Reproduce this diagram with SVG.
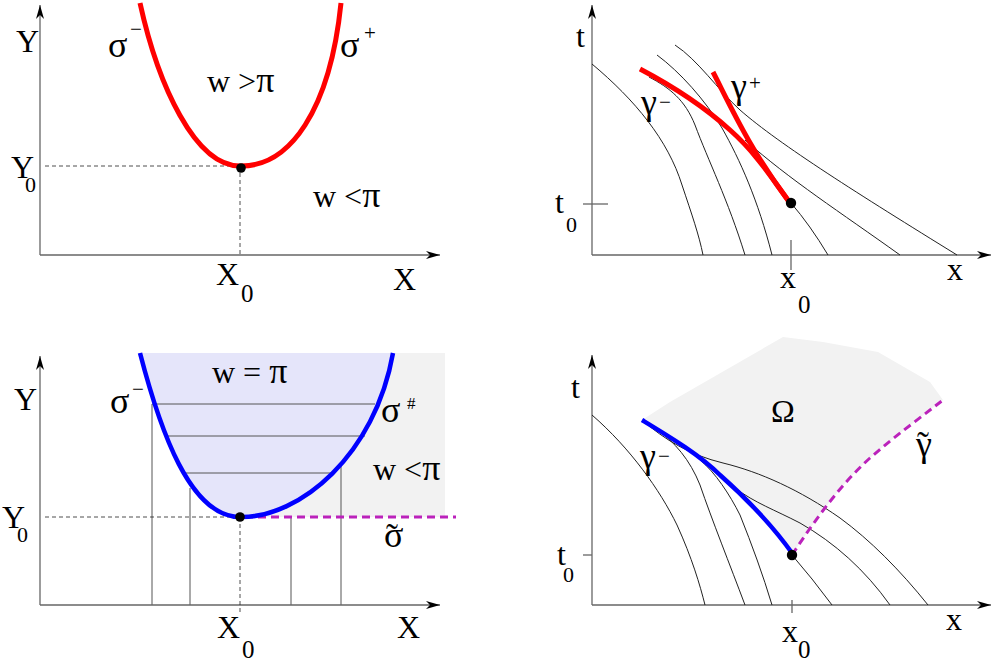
<svg xmlns="http://www.w3.org/2000/svg" width="994" height="664" viewBox="0 0 994 664">
<style>
text{font-family:"Liberation Serif","DejaVu Serif",serif;fill:#000}
.lab{font-size:32px}
.gr{font-size:36px}
.sub{font-size:22px}
.subx{font-size:25px}
.sup{font-size:21px}
.til{font-size:36px}
.axis{stroke:#666;stroke-width:1.3;fill:none}
.thin{stroke:#222;stroke-width:1;fill:none}
.dash{stroke:#222;stroke-width:0.8;stroke-dasharray:4 3;fill:none}
.mag{stroke:#bb22bb;stroke-width:3;stroke-dasharray:8 5;fill:none}
.red{stroke:#ff0000;stroke-width:5;fill:none}
.blue{stroke:#0000ff;stroke-width:4.5;fill:none}
.hl{stroke:#555;stroke-width:1;fill:none}
</style>
<defs>
<marker id="ah" viewBox="0 0 14 8" refX="14" refY="4" markerWidth="14" markerHeight="8" orient="auto" markerUnits="userSpaceOnUse">
<path d="M0,0 L14,4 L0,8 L4,4 z" fill="#000"/>
</marker>
</defs>

<g id="panel-top-left">
<line class="axis" x1="40" y1="255" x2="40" y2="5" marker-end="url(#ah)"/>
<line class="axis" x1="40" y1="255" x2="440" y2="255" marker-end="url(#ah)"/>
<line class="dash" x1="45" y1="166" x2="240" y2="166"/>
<line class="dash" x1="240" y1="166" x2="240" y2="255"/>
<path class="red" d="M140,3 C158,85 195,166 240,166 C290,167 330,110 341,3"/>
<circle cx="241" cy="168" r="4.8" fill="#000"/>
<text class="lab" x="16" y="52">Y</text>
<text class="gr" x="108" y="57">σ</text>
<text class="sup" x="130" y="36">−</text>
<text class="gr" x="340" y="57">σ</text>
<text class="sup" x="364" y="40">+</text>
<text class="lab" x="207" y="92">w &gt;<tspan class="gr">π</tspan></text>
<text class="lab" x="313" y="207">w &lt;<tspan class="gr">π</tspan></text>
<text class="lab" x="11" y="178">Y</text>
<text class="sub" x="25" y="192">0</text>
<text class="lab" x="216" y="285">X</text>
<text class="subx" x="241" y="302">0</text>
<text class="lab" x="393" y="290">X</text>
</g>

<g id="panel-top-right">
<line class="axis" x1="592" y1="255" x2="592" y2="5" marker-end="url(#ah)"/>
<line class="axis" x1="592" y1="255" x2="991" y2="255" marker-end="url(#ah)"/>
<line class="axis" x1="583" y1="204" x2="608" y2="204"/>
<line class="axis" x1="791" y1="240" x2="791" y2="270"/>
<g id="characteristics-top">
<path class="thin" d="M592,64 C635,100 668,140 682,185 C692,215 699,235 703,255"/>
<path class="thin" d="M649,77 C670,88 685,100 695,125 C708,160 728,200 745,255"/>
<path class="thin" d="M657,55 C680,72 705,100 722,128 C740,160 758,200 772,255"/>
<path class="thin" d="M675,45 C698,60 718,90 740,110 C780,145 860,195 957,255"/>
<path class="thin" d="M745,140 C790,180 840,212 900,255"/>
<path class="thin" d="M791,203 Q810,225 828,255"/>
</g>
<path class="red" d="M640,69 C680,90 710,112 730,130 C755,152 772,178 790,203"/>
<path class="red" d="M713,72 C730,105 750,150 790,203"/>
<circle cx="791" cy="203" r="5.2" fill="#000"/>
<text class="lab" x="576" y="47">t</text>
<text class="lab" x="555" y="213">t</text>
<text class="sub" x="566" y="232">0</text>
<text class="gr" x="641" y="114">γ</text>
<text class="sup" x="659" y="109">−</text>
<text class="gr" x="731" y="98">γ</text>
<text class="sup" x="749" y="90">+</text>
<text class="lab" x="780" y="288">x</text>
<text class="subx" x="798" y="313">0</text>
<text class="lab" x="947" y="280">x</text>
</g>

<g id="panel-bottom-left">
<rect x="240" y="353" width="205" height="164" fill="#f2f2f2"/>
<path d="M140,353 C160,430 190,517 240,517 C300,518 375,455 393,353 Z" fill="#e5e5fa"/>
<line class="hl" x1="152" y1="404" x2="375" y2="404"/>
<line class="hl" x1="166" y1="436" x2="365" y2="436"/>
<line class="hl" x1="183" y1="473" x2="334" y2="473"/>
<line class="hl" x1="152" y1="404" x2="152" y2="605"/>
<line class="hl" x1="190" y1="488" x2="190" y2="605"/>
<line class="hl" x1="291" y1="517" x2="291" y2="605"/>
<line class="hl" x1="341" y1="462" x2="341" y2="605"/>
<line class="axis" x1="40" y1="605" x2="40" y2="356" marker-end="url(#ah)"/>
<line class="axis" x1="40" y1="605" x2="440" y2="605" marker-end="url(#ah)"/>
<line class="dash" x1="45" y1="517" x2="240" y2="517"/>
<line class="dash" x1="240" y1="517" x2="240" y2="614"/>
<line class="mag" x1="245" y1="517" x2="456" y2="517"/>
<path class="blue" d="M140,353 C160,430 190,517 240,517 C300,518 375,455 393,353"/>
<circle cx="240" cy="517" r="4.8" fill="#000"/>
<text class="lab" x="212" y="383">w = <tspan class="gr">π</tspan></text>
<text class="lab" x="14" y="410">Y</text>
<text class="gr" x="110" y="413">σ</text>
<text class="sup" x="132" y="396">−</text>
<text class="gr" x="381" y="422">σ</text>
<text style="font-size:17px" x="407" y="409">#</text>
<text class="lab" x="373" y="480">w &lt;<tspan class="gr">π</tspan></text>
<text class="lab" x="2" y="528">Y</text>
<text class="sub" x="17" y="542">0</text>
<text class="gr" x="384" y="547">σ</text>
<text class="til" x="386" y="549">˜</text>
<text class="lab" x="217" y="638">X</text>
<text class="subx" x="242" y="658">0</text>
<text class="lab" x="397" y="638">X</text>
</g>

<g id="panel-bottom-right">
<path d="M642,420 L670,402 L783,337 L823,342 L878,352 L930,382 L943,400 C920,418 895,436 870,458 C840,485 815,520 792,555 C772,525 748,500 720,475 C700,455 670,437 642,420 Z" fill="#f2f2f2"/>
<line class="axis" x1="592" y1="605" x2="592" y2="355" marker-end="url(#ah)"/>
<line class="axis" x1="592" y1="605" x2="991" y2="605" marker-end="url(#ah)"/>
<line class="axis" x1="583" y1="555" x2="592" y2="555"/>
<line class="axis" x1="792" y1="600" x2="792" y2="613"/>
<g id="characteristics-bottom">
<path class="thin" d="M592,415 C630,448 660,490 677,525 C692,558 700,585 705,605"/>
<path class="thin" d="M655,428 C675,442 690,460 700,485 C712,520 730,565 745,605"/>
<path class="thin" d="M700,460 C715,472 730,495 740,515 C752,545 763,575 772,605"/>
<path class="thin" d="M642,420 C665,440 690,455 723,463 C760,472 800,490 840,518 C870,540 900,570 928,605"/>
<path class="thin" d="M735,488 C755,503 775,510 800,523 C835,543 865,570 890,605"/>
<path class="thin" d="M792,555 Q812,578 832,605"/>
</g>
<path class="mag" d="M792,555 C815,520 840,485 870,458 C895,436 920,418 943,400"/>
<path class="blue" d="M642,420 C670,437 700,455 720,475 C748,500 772,525 792,553"/>
<circle cx="792" cy="555" r="5.2" fill="#000"/>
<text class="lab" x="571" y="398">t</text>
<text class="lab" x="557" y="565">t</text>
<text class="sub" x="563" y="582">0</text>
<text class="lab" x="771" y="422">Ω</text>
<text class="gr" x="916" y="456">γ</text>
<text class="til" x="917" y="457">˜</text>
<text class="gr" x="640" y="468">γ</text>
<text class="sup" x="658" y="463">−</text>
<text class="lab" x="782" y="642">x</text>
<text class="subx" x="798" y="658">0</text>
<text class="lab" x="946" y="630">x</text>
</g>
</svg>
